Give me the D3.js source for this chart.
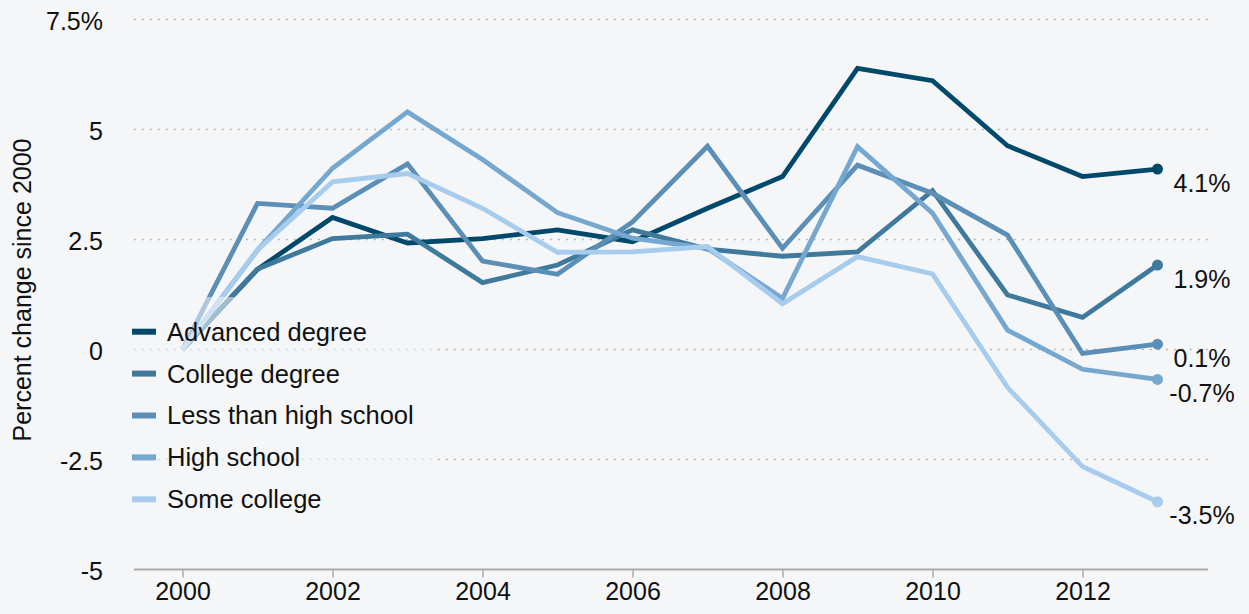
<!DOCTYPE html>
<html>
<head>
<meta charset="utf-8">
<script src="https://cdn.jsdelivr.net/npm/d3@7"></script>
<style>
  html, body { margin: 0; padding: 0; background: #f4f6f8; }
  svg { display: block; font-family: "Liberation Sans", Arial, sans-serif; }
</style>
</head>
<body>
<svg id="chart" width="1249" height="614"></svg>
<script>
const years = [2000, 2001, 2002, 2003, 2004, 2005, 2006, 2007, 2008, 2009, 2010, 2011, 2012, 2013];
const seriesNames = ["Advanced degree", "College degree", "Less than high school", "High school", "Some college"];
const advancedDegree   = [0, 1.82, 3.00, 2.42, 2.52, 2.72, 2.45, 3.21, 3.93, 6.39, 6.11, 4.63, 3.93, 4.10];
const collegeDegree    = [0, 1.83, 2.52, 2.62, 1.52, 1.92, 2.72, 2.28, 2.12, 2.22, 3.61, 1.24, 0.73, 1.92];
const lessThanHS       = [0, 3.32, 3.21, 4.22, 2.01, 1.71, 2.90, 4.62, 2.30, 4.19, 3.55, 2.60, -0.09, 0.12];
const highSchool       = [0, 2.26, 4.12, 5.40, 4.32, 3.11, 2.53, 2.30, 1.16, 4.61, 3.10, 0.44, -0.45, -0.68];
const someCollege      = [0, 2.26, 3.81, 4.00, 3.21, 2.21, 2.22, 2.34, 1.04, 2.11, 1.72, -0.86, -2.66, -3.46];
const endLabels = ["4.1%", "1.9%", "0.1%", "-0.7%", "-3.5%"];
const colors = ["#00496b", "#3f7a9c", "#5b8fb5", "#76a8cf", "#a7cced"];
const yTicks = [-5, -2.5, 0, 2.5, 5, 7.5];
const yTickLabels = ["-5", "-2.5", "0", "2.5", "5", "7.5%"];
const xTicks = [2000, 2002, 2004, 2006, 2008, 2010, 2012];
const yTitle = "Percent change since 2000";

const seriesValues = [advancedDegree, collegeDegree, lessThanHS, highSchool, someCollege];
const FS = 25;

const svg = d3.select("#chart");
const x = d3.scaleLinear().domain([2000, 2013]).range([182.5, 1157.5]);
const y = d3.scaleLinear().domain([-5, 7.5]).range([569.5, 19.5]);
const gridLeft = 134, gridRight = 1208;

// gridlines
svg.append("g").selectAll("line")
  .data(yTicks.filter(d => d > -5))
  .join("line")
  .attr("x1", gridLeft).attr("x2", gridRight)
  .attr("y1", d => y(d)).attr("y2", d => y(d))
  .attr("stroke", "#a9a9a9").attr("stroke-width", 1.6)
  .attr("stroke-dasharray", "1.6,6.4");

// y tick labels
svg.append("g").selectAll("text")
  .data(yTicks)
  .join("text")
  .attr("x", 103).attr("y", d => y(d) + 2)
  .attr("dy", "0.35em")
  .attr("text-anchor", "end")
  .attr("font-size", FS)
  .attr("fill", "#111")
  .text((d, i) => yTickLabels[i]);

// y title
svg.append("text")
  .attr("transform", "translate(31,290) rotate(-90)")
  .attr("text-anchor", "middle")
  .attr("font-size", FS)
  .attr("fill", "#111")
  .text(yTitle);

// x axis
const xAxis = d3.axisBottom(x).tickValues(xTicks).tickFormat(d3.format("d")).tickSize(8).tickPadding(5);
const gx = svg.append("g").attr("transform", `translate(0,${y(-5)})`).call(xAxis);
gx.select(".domain").remove();
gx.insert("line", ":first-child")
  .attr("x1", gridLeft).attr("x2", gridRight).attr("y1", 0).attr("y2", 0)
  .attr("stroke", "#aaaaaa").attr("stroke-width", 2);
gx.selectAll(".tick line").attr("stroke", "#aaaaaa").attr("stroke-width", 1.5);
gx.selectAll(".tick text").attr("font-size", FS).attr("fill", "#111")
  .attr("font-family", "Liberation Sans, Arial, sans-serif");

// lines: darkest first, lightest on top
const line = d3.line().x((d, i) => x(years[i])).y(d => y(d));
const gl = svg.append("g");
seriesValues.forEach((vals, k) => {
  gl.append("path")
    .datum(vals)
    .attr("d", line)
    .attr("fill", "none")
    .attr("stroke", colors[k])
    .attr("stroke-width", 4.8)
    .attr("stroke-linejoin", "miter");
  gl.append("circle")
    .attr("cx", x(years[years.length - 1]))
    .attr("cy", y(vals[vals.length - 1]))
    .attr("r", 5.5)
    .attr("fill", colors[k]);
});

// end labels
svg.append("g").selectAll("text")
  .data(seriesValues)
  .join("text")
  .attr("x", 1202)
  .attr("y", d => y(d[d.length - 1]) + 14)
  .attr("dy", "0.35em")
  .attr("text-anchor", "middle")
  .attr("font-size", FS)
  .attr("fill", "#111")
  .text((d, i) => endLabels[i]);

// legend with translucent background
const legend = svg.append("g");
legend.append("rect")
  .attr("x", 124).attr("y", 297).attr("width", 310).attr("height", 228)
  .attr("fill", "#f4f6f8").attr("opacity", 0.55);
seriesNames.forEach((name, i) => {
  const cy = 331.7 + i * 41.9;
  legend.append("rect")
    .attr("x", 132).attr("y", cy - 3)
    .attr("width", 24).attr("height", 6)
    .attr("fill", colors[i]);
  legend.append("text")
    .attr("x", 167).attr("y", cy)
    .attr("dy", "0.35em")
    .attr("font-size", FS + 0.5)
    .attr("fill", "#111")
    .text(name);
});
</script>
</body>
</html>
